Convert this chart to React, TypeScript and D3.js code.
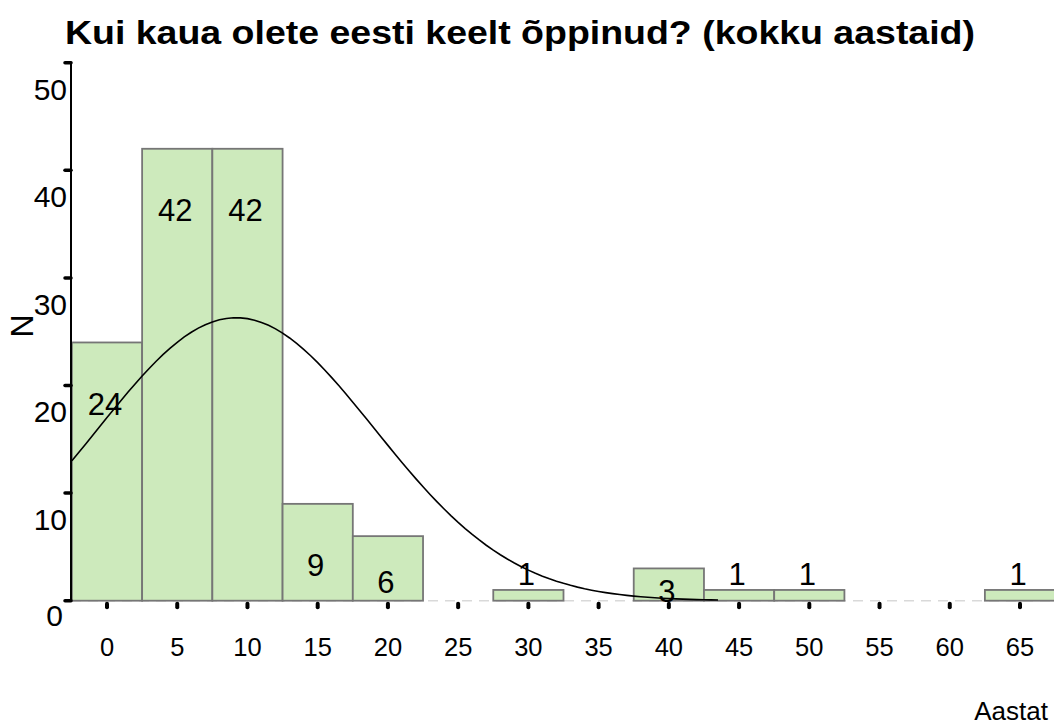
import React, { useRef, useEffect } from 'react';
import * as d3 from 'd3';

// Histogram data (years of studying Estonian)
const binCenters: number[] = [0, 5, 10, 15, 20, 30, 40, 45, 50, 65];
const binCounts: number[] = [24, 42, 42, 9, 6, 1, 3, 1, 1, 1];
const binWidth = 5;

const xTickValues: number[] = [0, 5, 10, 15, 20, 25, 30, 35, 40, 45, 50, 55, 60, 65];
const yTickValues: number[] = [0, 10, 20, 30, 40, 50];

// Fitted normal curve parameters
const curveMean = 9.2;
const curveSd = 9.86;
const curveFrom = -2.5;
const curveTo = 43.8;

const titleText = 'Kui kaua olete eesti keelt õppinud? (kokku aastaid)';
const xAxisTitle = 'Aastat';
const yAxisTitle = 'N';

const WIDTH = 1054;
const HEIGHT = 726;
const FONT = '"Liberation Sans", Arial, Helvetica, sans-serif';

const App = () => {
  const svgRef = useRef<SVGSVGElement>(null);

  useEffect(() => {
    if (!svgRef.current) return;
    const svg = d3.select(svgRef.current);
    svg.selectAll('*').remove();

    const x = d3.scaleLinear().domain([0, 65]).range([107, 1020]);
    const y = d3.scaleLinear().domain([0, 50]).range([600.7, 62.7]);
    const axisX = 71;

    // Title
    svg.append('text')
      .attr('x', 65)
      .attr('y', 44)
      .attr('font-family', FONT)
      .attr('font-weight', 'bold')
      .attr('font-size', 33)
      .attr('textLength', 910)
      .attr('lengthAdjust', 'spacingAndGlyphs')
      .attr('fill', '#000')
      .text(titleText);

    // Dashed zero line
    svg.append('line')
      .attr('x1', axisX)
      .attr('x2', WIDTH)
      .attr('y1', y(0))
      .attr('y2', y(0))
      .attr('stroke', '#d9d9d9')
      .attr('stroke-width', 1.5)
      .attr('stroke-dasharray', '10,7');

    // Bars
    const total = d3.sum(binCounts);
    const bins = binCenters.map((c, i) => ({ c, n: binCounts[i] }));

    svg.append('g')
      .selectAll('rect')
      .data(bins)
      .enter()
      .append('rect')
      .attr('x', d => x(d.c - binWidth / 2))
      .attr('width', d => x(d.c + binWidth / 2) - x(d.c - binWidth / 2))
      .attr('y', d => y(d.n))
      .attr('height', d => y(0) - y(d.n))
      .attr('fill', '#cdeabc')
      .attr('stroke', '#767676')
      .attr('stroke-width', 1.8);

    // Normal curve
    const curvePts = d3.range(curveFrom, curveTo + 0.001, 0.5).map(v => {
      const z = (v - curveMean) / curveSd;
      const dens = (total * binWidth) / (curveSd * Math.sqrt(2 * Math.PI)) * Math.exp(-0.5 * z * z);
      return [v, dens] as [number, number];
    });
    const line = d3.line<[number, number]>()
      .x(d => x(d[0]))
      .y(d => y(d[1]));
    svg.append('path')
      .datum(curvePts)
      .attr('fill', 'none')
      .attr('stroke', '#000')
      .attr('stroke-width', 1.6)
      .attr('d', line);

    // Bar labels
    const labelY = (n: number) => {
      const top = y(n);
      const h = y(0) - top;
      if (h >= 90) return top + 61;
      if (h >= 50) return y(0) - 19;
      if (h >= 25) return y(0) - 10;
      return top - 16;
    };
    svg.append('g')
      .selectAll('text')
      .data(bins)
      .enter()
      .append('text')
      .attr('x', d => x(d.c) - 2)
      .attr('y', d => labelY(d.n))
      .attr('dy', '0.36em')
      .attr('text-anchor', 'middle')
      .attr('font-family', FONT)
      .attr('font-size', 31)
      .attr('fill', '#000')
      .text(d => d.n);

    // Y axis
    svg.append('line')
      .attr('x1', axisX)
      .attr('x2', axisX)
      .attr('y1', y(50) - 1)
      .attr('y2', y(0))
      .attr('stroke', '#000')
      .attr('stroke-width', 2);

    svg.append('g')
      .selectAll('line')
      .data(yTickValues)
      .enter()
      .append('line')
      .attr('x1', axisX - 6)
      .attr('x2', axisX)
      .attr('y1', d => y(d))
      .attr('y2', d => y(d))
      .attr('stroke', '#000')
      .attr('stroke-width', 3.5)
      .attr('stroke-linecap', 'round');

    svg.append('g')
      .selectAll('text')
      .data(yTickValues)
      .enter()
      .append('text')
      .attr('x', d => (d === 0 ? axisX - 8 : axisX - 4))
      .attr('y', d => y(d) + (d === 0 ? 14 : 26))
      .attr('dy', '0.36em')
      .attr('text-anchor', 'end')
      .attr('font-family', FONT)
      .attr('font-size', 30)
      .attr('fill', '#000')
      .text(d => d);

    // X axis ticks
    svg.append('g')
      .selectAll('line')
      .data(xTickValues)
      .enter()
      .append('line')
      .attr('x1', d => x(d))
      .attr('x2', d => x(d))
      .attr('y1', y(0) + 3)
      .attr('y2', y(0) + 6.5)
      .attr('stroke', '#000')
      .attr('stroke-width', 4)
      .attr('stroke-linecap', 'round');

    svg.append('g')
      .selectAll('text')
      .data(xTickValues)
      .enter()
      .append('text')
      .attr('x', d => x(d))
      .attr('y', 647)
      .attr('dy', '0.36em')
      .attr('text-anchor', 'middle')
      .attr('font-family', FONT)
      .attr('font-size', 25.5)
      .attr('fill', '#000')
      .text(d => d);

    // Axis titles
    svg.append('text')
      .attr('x', 1048)
      .attr('y', 720)
      .attr('text-anchor', 'end')
      .attr('font-family', FONT)
      .attr('font-size', 26)
      .attr('fill', '#000')
      .text(xAxisTitle);

    svg.append('text')
      .attr('transform', 'translate(33,326) rotate(-90)')
      .attr('text-anchor', 'middle')
      .attr('font-family', FONT)
      .attr('font-size', 32)
      .attr('fill', '#000')
      .text(yAxisTitle);
  }, []);

  return (
    <svg
      ref={svgRef}
      width={WIDTH}
      height={HEIGHT}
      style={{ position: 'absolute', left: 0, top: 0, background: '#fff' }}
    />
  );
};

export default App;
